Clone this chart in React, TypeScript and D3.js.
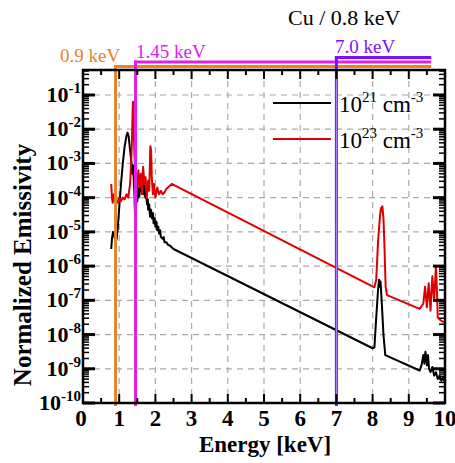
import React from "react";
import * as d3 from "d3";

// Energy (keV) and log10(normalized emissivity)
const black21: [number, number][] = [
  [0.78, -5.5], [0.8, -5.2], [0.83, -5.0], [0.86, -5.1], [0.9, -5.3], [0.93, -5.2], [0.96, -4.9],
  [1.0, -4.3], [1.05, -3.6], [1.1, -3.0], [1.15, -2.5], [1.2, -2.2], [1.23, -2.1], [1.26, -2.2],
  [1.3, -2.6], [1.33, -2.9], [1.36, -3.3], [1.38, -3.05], [1.4, -3.4], [1.42, -3.9], [1.44, -4.6],
  [1.47, -4.2], [1.49, -3.9], [1.5, -4.1], [1.52, -3.8], [1.53, -4.0], [1.55, -3.7], [1.56, -3.95],
  [1.58, -3.6], [1.6, -3.8], [1.62, -3.55], [1.63, -3.85], [1.65, -3.6], [1.67, -3.9], [1.7, -3.65],
  [1.72, -4.0], [1.74, -3.9], [1.77, -4.2], [1.79, -4.05], [1.8, -4.35], [1.83, -4.2], [1.85, -4.55],
  [1.88, -4.35], [1.9, -4.6], [1.93, -4.45], [1.95, -4.75], [1.98, -4.6], [2.0, -4.85], [2.03, -4.7],
  [2.05, -4.95], [2.08, -4.85], [2.1, -5.05], [2.13, -4.95], [2.15, -5.15], [2.2, -5.2], [2.23, -5.15],
  [2.25, -5.3], [2.3, -5.3], [2.35, -5.38], [2.4, -5.4], [2.5, -5.5],
  [8.0, -8.4], [8.05, -8.38], [8.1, -7.5], [8.15, -6.7], [8.18, -6.4], [8.2, -6.6], [8.22, -6.45],
  [8.25, -7.0], [8.3, -8.0], [8.35, -8.6], [9.3, -9.05], [9.35, -8.9], [9.4, -8.6], [9.43, -8.85],
  [9.46, -8.5], [9.5, -8.9], [9.53, -8.6], [9.56, -9.0], [9.6, -9.1], [9.65, -8.95], [9.7, -9.2],
  [9.75, -9.1], [9.8, -9.3], [9.85, -9.2], [9.9, -9.35], [9.95, -9.25], [10.0, -9.4],
];

const red23: [number, number][] = [
  [0.78, -3.6], [0.8, -4.0], [0.82, -4.15], [0.85, -3.9], [0.88, -4.1], [0.9, -3.85], [0.93, -4.1],
  [0.97, -4.15], [1.0, -4.0], [1.05, -4.1], [1.1, -4.0], [1.15, -4.05], [1.2, -3.9], [1.25, -4.0],
  [1.3, -3.6], [1.33, -3.0], [1.35, -2.4], [1.37, -1.5], [1.38, -1.2], [1.4, -2.0], [1.42, -2.7],
  [1.45, -3.5], [1.48, -3.9], [1.5, -3.6], [1.53, -3.2], [1.56, -3.7], [1.6, -3.3], [1.63, -3.9],
  [1.66, -3.1], [1.7, -3.6], [1.73, -3.4], [1.76, -4.0], [1.8, -3.5], [1.83, -3.8], [1.86, -2.5],
  [1.88, -2.6], [1.9, -3.4], [1.93, -3.9], [1.96, -3.6], [2.0, -4.0], [2.05, -3.7], [2.1, -3.9],
  [2.15, -3.8], [2.2, -3.9], [2.25, -3.85], [2.3, -3.75], [2.4, -3.65], [2.45, -3.6],
  [8.05, -6.62], [8.1, -6.4], [8.15, -5.3], [8.2, -4.6], [8.23, -4.3], [8.25, -4.4], [8.27, -4.25],
  [8.3, -4.6], [8.33, -5.5], [8.36, -6.6], [8.4, -6.85], [9.3, -7.25], [9.4, -7.1], [9.45, -6.6],
  [9.5, -7.2], [9.55, -6.5], [9.6, -7.3], [9.65, -6.3], [9.7, -7.0], [9.75, -6.0], [9.78, -6.8],
  [9.8, -7.5], [9.85, -7.55], [9.9, -7.6], [10.0, -7.65],
];

const xTicks = [0, 1, 2, 3, 4, 5, 6, 7, 8, 9, 10];
const yExponents = [-10, -9, -8, -7, -6, -5, -4, -3, -2, -1];
const markers = [
  { e: 0.9, label: "0.9 keV", color: "#E8832A" },
  { e: 1.45, label: "1.45 keV", color: "#E020E8" },
  { e: 7.0, label: "7.0 keV", color: "#7A10FF" },
];
const legendItems = [
  { exp: "21", color: "#000000" },
  { exp: "23", color: "#DD0000" },
];
const title = "Cu / 0.8 keV";

const W = 455, H = 463;
const L = 83, R = 445, T = 70, B = 403;
const serif = "'Liberation Serif', 'Times New Roman', serif";

export default function App() {
  const x = d3.scaleLinear().domain([0, 10]).range([L, R]);
  const y = d3.scaleLog().domain([1e-10, Math.pow(10, -0.27)]).range([B, T]);
  const line = d3
    .line<[number, number]>()
    .x((d) => x(d[0]))
    .y((d) => y(Math.pow(10, d[1])));

  const minorY: number[] = [];
  for (let e = -10; e < 0; e++) {
    for (let k = 2; k <= 9; k++) {
      const v = k * Math.pow(10, e);
      if (v < y.domain()[1]) minorY.push(v);
    }
  }
  const minorX = d3.range(0.5, 10, 1);

  const barEnd = x(9.62);
  const barY = [66.5, 62, 57.5];
  const labelPos = [
    { x: 60, y: 62 },
    { x: 136, y: 58 },
    { x: 335, y: 53 },
  ];

  return (
    <svg width={W} height={H} style={{ position: "absolute", left: 0, top: 0, background: "#fff" }}>
      <rect x={0} y={0} width={W} height={H} fill="#fff" />
      <defs>
        <clipPath id="plotclip">
          <rect x={L} y={T} width={R - L} height={B - T} />
        </clipPath>
      </defs>
      <g clipPath="url(#plotclip)">
        {xTicks.slice(1, -1).map((t) => (
          <line key={"gx" + t} x1={x(t)} x2={x(t)} y1={T} y2={B} stroke="#aaa" strokeWidth={1.2} strokeDasharray="6,5" />
        ))}
        {yExponents.slice(1).map((e) => (
          <line key={"gy" + e} x1={L} x2={R} y1={y(Math.pow(10, e))} y2={y(Math.pow(10, e))} stroke="#aaa" strokeWidth={1.2} strokeDasharray="6,5" />
        ))}
      </g>
      <g clipPath="url(#plotclip)">
        <path d={line(black21) || ""} fill="none" stroke="#000" strokeWidth={2} strokeLinejoin="round" />
        <path d={line(red23) || ""} fill="none" stroke="#DD0000" strokeWidth={2} strokeLinejoin="round" />
      </g>
      {/* legend */}
      {legendItems.map((it, i) => (
        <g key={it.exp}>
          <line x1={273} x2={331} y1={103 + i * 36} y2={103 + i * 36} stroke={it.color} strokeWidth={2.2} />
          <text x={339} y={112 + i * 36} fontFamily={serif} fontSize={23} fill="#000">
            10<tspan dy={-10} fontSize={15}>{it.exp}</tspan>
            <tspan dy={10}> cm</tspan>
            <tspan dy={-10} fontSize={15}>-3</tspan>
          </text>
        </g>
      ))}
      {/* marker lines */}
      {markers.map((m, i) => (
        <g key={m.label}>
          <line x1={x(m.e)} x2={x(m.e)} y1={barY[i] - 1.5} y2={B + 3} stroke={m.color} strokeWidth={3} />
          <line x1={x(m.e) - 1.5} x2={barEnd} y1={barY[i]} y2={barY[i]} stroke={m.color} strokeWidth={3} />
          <text x={labelPos[i].x} y={labelPos[i].y} fontFamily={serif} fontSize={19} fill={m.color}>
            {m.label}
          </text>
        </g>
      ))}
      <line x1={x(7)} x2={x(7)} y1={T} y2={B} stroke="#B890FF" strokeWidth={1} />
      {/* frame */}
      <rect x={L} y={T} width={R - L} height={B - T} fill="none" stroke="#000" strokeWidth={2.5} />
      {/* y ticks */}
      {yExponents.map((e) => {
        const yy = y(Math.pow(10, e));
        return (
          <g key={"yt" + e}>
            <line x1={L} x2={L + 12} y1={yy} y2={yy} stroke="#000" strokeWidth={3} />
            <line x1={R} x2={R - 12} y1={yy} y2={yy} stroke="#000" strokeWidth={3} />
            <text x={81} y={yy + 7} textAnchor="end" fontFamily={serif} fontWeight="bold" fontSize={22} fill="#000">
              10<tspan dy={-9} fontSize={15}>{e}</tspan>
            </text>
          </g>
        );
      })}
      {minorY.map((v, i) => (
        <g key={"my" + i}>
          <line x1={L} x2={L + 6} y1={y(v)} y2={y(v)} stroke="#000" strokeWidth={1.5} />
          <line x1={R} x2={R - 6} y1={y(v)} y2={y(v)} stroke="#000" strokeWidth={1.5} />
        </g>
      ))}
      {/* x ticks */}
      {xTicks.map((t) => (
        <g key={"xt" + t}>
          <line x1={x(t)} x2={x(t)} y1={B} y2={B - 9} stroke="#000" strokeWidth={2} />
          <line x1={x(t)} x2={x(t)} y1={T} y2={T + 9} stroke="#000" strokeWidth={2} />
          <text x={x(t) - (t === 0 ? 2 : 0)} y={426} textAnchor="middle" fontFamily={serif} fontWeight="bold" fontSize={23} fill="#000">
            {t}
          </text>
        </g>
      ))}
      {minorX.map((t) => (
        <g key={"mx" + t}>
          <line x1={x(t)} x2={x(t)} y1={B} y2={B - 5} stroke="#000" strokeWidth={2} />
          <line x1={x(t)} x2={x(t)} y1={T} y2={T + 5} stroke="#000" strokeWidth={2} />
        </g>
      ))}
      {/* axis titles */}
      <text x={265} y={452} textAnchor="middle" fontFamily={serif} fontWeight="bold" fontSize={23} fill="#000">
        Energy [keV]
      </text>
      <text transform={`translate(31,265) rotate(-90)`} textAnchor="middle" fontFamily={serif} fontWeight="bold" fontSize={25} fill="#000">
        Normalized Emissivity
      </text>
      <text x={288} y={25} fontFamily={serif} fontSize={22} fill="#000">
        {title}
      </text>
    </svg>
  );
}
